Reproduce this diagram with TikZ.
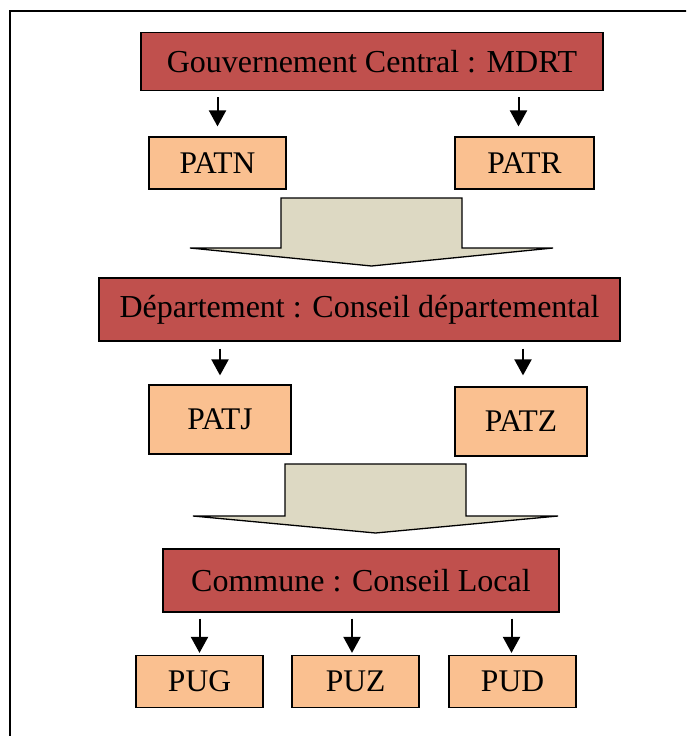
\documentclass[tikz,border=0pt]{standalone}
\usepackage{fontspec}
\setmainfont{Liberation Serif}
\usetikzlibrary{arrows.meta,calc}
\definecolor{boxred}{HTML}{C0504D}
\definecolor{boxorange}{HTML}{FAC090}
\definecolor{arrowtan}{HTML}{DDD9C3}
\tikzset{
  redbox/.style={draw=black, line width=1.2pt, fill=boxred, inner sep=0pt, font=\fontsize{32}{37}\selectfont},
  orbox/.style={draw=black, line width=1.2pt, fill=boxorange, inner sep=0pt, font=\fontsize{31.5}{36}\selectfont},
  arr/.style={line width=2pt, -{Triangle[width=17pt,length=16pt]}},
  blockarrow/.style={draw=black, line width=1.3pt, fill=arrowtan, line join=miter},
}
\begin{document}
\begin{tikzpicture}[x=1pt,y=-1pt]
\useasboundingbox (0,0) rectangle (686,736);
\clip (0,0) rectangle (686,736);
\draw[line width=1.5pt] (10,11) rectangle (720,780);

% level 1
\node[redbox, minimum width=462pt, minimum height=58pt] (gov) at (372,61.5) {Gouvernement Central : MDRT};
\node[orbox, minimum width=137pt, minimum height=52pt] (patn) at (217.5,163) {PATN};
\node[orbox, minimum width=139pt, minimum height=52pt] (patr) at (524.5,163) {PATR};
\draw[arr, shorten <=6pt, shorten >=10pt] (patn.north |- gov.south) -- (patn.north);
\draw[arr, shorten <=6pt, shorten >=10pt] ($(patr.north |- gov.south)+(-6,0)$) -- ($(patr.north)+(-6,0)$);

% block arrow 1
\draw[blockarrow] (281,198) -- (462,198) -- (462,248) -- (553,248) -- (371.5,266) -- (190,248) -- (281,248) -- cycle;

% level 2
\node[redbox, minimum width=521pt, minimum height=63pt] (dep) at (359.5,309.5) {Département : Conseil départemental};
\node[orbox, minimum width=142pt, minimum height=69pt] (patj) at (220,419.5) {PATJ};
\node[orbox, minimum width=132pt, minimum height=69pt] (patz) at (521,421.5) {PATZ};
\draw[arr, shorten <=7pt, shorten >=9pt] (patj.north |- dep.south) -- (patj.north);
\draw[arr, shorten <=7pt, shorten >=11pt] ($(patz.north |- dep.south)+(2,0)$) -- ($(patz.north)+(2,0)$);

% block arrow 2
\draw[blockarrow] (285,464) -- (466,464) -- (466,516) -- (558,516) -- (375.5,533) -- (193,516) -- (285,516) -- cycle;

% level 3
\node[redbox, minimum width=396pt, minimum height=63pt] (com) at (361,580.5) {Commune : Conseil Local};
\node[orbox, minimum width=127pt, minimum height=52pt] (pug) at (199.5,681.5) {PUG};
\node[orbox, minimum width=127pt, minimum height=52pt] (puz) at (355.5,681.5) {PUZ};
\node[orbox, minimum width=127pt, minimum height=52pt] (pud) at (512.5,681.5) {PUD};
\draw[arr, shorten <=6pt, shorten >=2pt] (pug.north |- com.south) -- (pug.north);
\draw[arr, shorten <=6pt, shorten >=2pt] ($(puz.north |- com.south)+(-3.5,0)$) -- ($(puz.north)+(-3.5,0)$);
\draw[arr, shorten <=6pt, shorten >=2pt] ($(pud.north |- com.south)+(-1,0)$) -- ($(pud.north)+(-1,0)$);
\end{tikzpicture}
\end{document}
